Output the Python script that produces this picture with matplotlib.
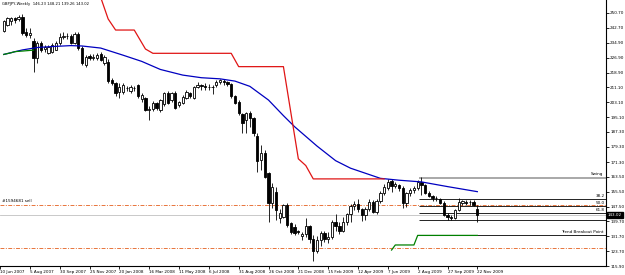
import numpy as np
import matplotlib
matplotlib.use("Agg")
import matplotlib.pyplot as plt
import matplotlib.transforms as mtrans

# ---------------- data ----------------
opens = [241.0, 244.3, 246.6, 247.9, 247.4, 248.8, 240.8, 239.0, 236.0, 226.6,
         234.6, 231.5, 229.3, 230.0, 231.2, 234.6, 238.1, 238.6, 238.5, 234.7,
         239.6, 232.0, 223.2, 228.0, 226.8, 226.8, 229.0, 224.0, 224.8, 214.8,
         213.2, 208.8, 208.8, 210.8, 209.0, 210.8, 212.3, 204.6, 205.2, 199.1,
         199.4, 202.6, 199.0, 202.0, 207.9, 204.4, 207.9, 201.7, 202.8, 205.5,
         208.0, 205.5, 211.4, 212.2, 212.0, 211.2, 211.0, 212.3, 214.0, 214.6,
         213.9, 212.6, 206.2, 203.0, 197.0, 193.7, 197.3, 194.7, 185.0, 172.4,
         176.0, 165.3, 149.5, 155.5, 141.3, 142.2, 148.4, 138.6, 136.9, 134.5,
         132.0, 132.8, 137.0, 130.5, 124.0, 129.5, 133.5, 130.2, 131.5, 139.3,
         137.0, 134.8, 139.5, 143.4, 147.9, 148.7, 146.3, 143.3, 146.2, 150.1,
         144.6, 150.6, 154.7, 157.3, 161.0, 158.3, 159.0, 157.5, 149.6, 154.6,
         156.3, 157.3, 160.8, 159.0, 155.0, 153.0, 151.9, 151.4, 149.4, 143.2,
         142.0, 141.4, 145.7, 149.6, 150.2, 149.8, 150.0, 146.23]
highs = [246.9, 248.7, 248.5, 248.7, 249.8, 250.2, 242.5, 242.5, 237.5, 235.5,
         235.5, 233.5, 233.5, 234.5, 235.5, 239.9, 240.8, 240.0, 239.7, 240.6,
         240.6, 233.0, 228.3, 229.0, 229.0, 229.5, 230.0, 228.5, 226.0, 216.0,
         214.0, 213.2, 213.3, 212.0, 212.2, 212.0, 213.0, 208.0, 206.0, 201.0,
         203.6, 203.4, 205.0, 208.8, 209.2, 208.6, 209.0, 204.0, 206.8, 209.5,
         208.8, 212.0, 214.0, 212.8, 213.2, 212.8, 212.3, 215.0, 215.6, 215.4,
         214.5, 213.4, 207.0, 204.5, 197.6, 198.0, 198.5, 195.5, 186.5, 180.4,
         177.5, 166.0, 160.3, 157.8, 146.0, 149.0, 149.2, 139.5, 138.5, 135.1,
         134.0, 141.5, 137.8, 132.5, 131.8, 134.5, 134.8, 133.8, 140.2, 143.5,
         139.5, 142.0, 144.2, 148.9, 150.5, 151.6, 147.0, 147.5, 151.5, 150.8,
         151.5, 155.6, 159.6, 162.0, 162.0, 160.9, 159.5, 158.3, 155.5, 157.5,
         158.6, 161.6, 163.3, 159.6, 156.0, 153.8, 153.2, 152.0, 150.3, 144.0,
         143.0, 146.0, 152.0, 151.0, 151.3, 151.0, 150.8, 148.21]
lows = [240.4, 243.8, 244.3, 245.2, 246.2, 239.0, 238.0, 237.2, 219.4, 224.2,
        230.0, 229.9, 228.8, 229.5, 230.8, 233.8, 236.8, 236.9, 234.0, 234.0,
        231.2, 223.0, 222.1, 225.8, 225.5, 225.5, 225.0, 223.0, 213.5, 212.5,
        206.5, 205.2, 207.5, 209.0, 208.2, 209.3, 205.5, 203.5, 198.5, 193.7,
        198.5, 198.8, 198.1, 201.2, 202.0, 203.5, 199.3, 200.5, 202.0, 204.8,
        205.5, 205.0, 210.5, 209.8, 209.5, 209.4, 207.5, 211.5, 212.8, 212.5,
        211.6, 205.5, 202.0, 196.5, 186.8, 186.6, 190.2, 185.0, 166.2, 167.0,
        162.8, 139.5, 146.7, 140.4, 138.8, 141.5, 136.5, 133.0, 132.5, 133.0,
        129.5, 131.5, 128.0, 118.8, 122.8, 126.8, 128.6, 128.2, 130.5, 134.5,
        133.2, 134.0, 137.8, 139.5, 145.9, 144.8, 139.9, 140.5, 145.0, 144.0,
        143.8, 149.5, 153.5, 156.2, 155.3, 157.2, 155.8, 146.9, 147.5, 153.4,
        155.0, 156.4, 153.8, 154.5, 152.5, 150.5, 150.6, 149.0, 142.8, 140.2,
        140.5, 140.8, 145.0, 148.3, 148.5, 148.6, 147.8, 139.26]
closes = [246.4, 247.9, 247.9, 247.2, 248.5, 239.8, 239.0, 239.8, 226.7, 234.6,
          231.1, 232.3, 232.7, 233.5, 234.6, 238.1, 238.6, 238.2, 234.7, 239.6,
          232.0, 224.0, 227.4, 226.6, 227.4, 228.3, 225.8, 227.4, 214.3, 213.2,
          208.0, 211.2, 212.2, 210.5, 211.4, 210.5, 206.2, 207.0, 199.1, 199.6,
          202.6, 200.0, 204.4, 207.9, 202.8, 207.9, 200.0, 203.0, 206.0, 208.6,
          206.3, 211.2, 212.2, 212.0, 211.2, 211.0, 211.5, 214.0, 214.8, 214.0,
          212.6, 206.2, 202.8, 197.5, 192.0, 197.2, 194.7, 186.7, 171.6, 176.0,
          163.5, 149.3, 157.8, 145.7, 144.0, 148.4, 137.7, 134.2, 133.3, 134.0,
          132.8, 137.0, 130.5, 124.0, 129.5, 133.5, 130.2, 131.5, 139.3, 137.0,
          134.8, 139.5, 143.4, 147.9, 148.7, 146.3, 143.3, 146.2, 150.1, 144.6,
          150.6, 154.8, 158.2, 160.8, 158.3, 159.6, 157.5, 149.6, 154.6, 156.4,
          157.4, 160.8, 159.0, 155.0, 153.0, 151.9, 152.1, 149.4, 143.2, 142.0,
          141.6, 145.7, 150.2, 150.6, 149.7, 150.2, 148.3, 143.02]

# moving average (blue) read at bar positions
ma_idx = [0, 5, 9, 13, 18, 21, 26, 32, 37, 42, 48, 53, 58, 62, 66, 71, 75, 78,
          84, 89, 93, 101, 106, 112, 119, 127]
ma_val = [228.6, 231.0, 232.3, 232.8, 233.3, 233.1, 232.0, 228.2, 224.9, 220.6,
          217.6, 216.2, 215.6, 214.4, 211.6, 204.3, 196.0, 190.1, 179.8, 172.0,
          168.0, 162.6, 161.6, 160.7, 158.2, 155.5]

# trailing stop above price (red)
stop_hi_idx = [26, 28, 30, 35, 38, 40, 61, 63, 75, 79, 81, 83, 102]
stop_hi_val = [259.0, 247.5, 241.6, 241.6, 231.5, 229.2, 229.2, 222.1, 222.1,
               173.0, 169.4, 162.3, 162.3]

# trailing stop below price (green)
stop_lo1_idx = [0, 2, 3, 5, 8]
stop_lo1_val = [228.6, 229.5, 230.1, 230.4, 230.9]
stop_lo2_idx = [104, 105, 110, 111, 127]
stop_lo2_val = [124.4, 127.1, 127.1, 132.2, 132.2]

# horizontal objects
order_levels = [148.4, 125.3]
bid_price = 143.02
swing_level = 163.0
fib_levels = [151.6, 147.9, 144.0, 140.4]
fib_labels = ["38.2", "50.0", "61.8", ""]
breakout_level = 132.2
obj_start = 111.3

y_ticks = [250.70, 242.70, 234.90, 226.90, 218.90, 211.10, 203.10, 195.10,
           187.30, 179.30, 171.30, 163.50, 155.50, 147.50, 139.70, 131.70,
           123.70, 115.90]
x_tick_idx = [-1, 7, 15, 23, 31, 39, 47, 55, 63, 71, 79, 87, 95, 103, 111, 119, 127]
x_tick_labels = ["10 Jun 2007", "5 Aug 2007", "30 Sep 2007", "25 Nov 2007",
                 "20 Jan 2008", "16 Mar 2008", "11 May 2008", "6 Jul 2008",
                 "31 Aug 2008", "26 Oct 2008", "21 Dec 2008", "15 Feb 2009",
                 "12 Apr 2009", "7 Jun 2009", "2 Aug 2009", "27 Sep 2009",
                 "22 Nov 2009"]

header = "GBPJPY,Weekly  146.23 148.21 139.26 143.02"

# ---------------- plot ----------------
plt.rcParams['font.family'] = ['DejaVu Sans']
FS = 3.0

fig = plt.figure(figsize=(6.25, 2.75), dpi=100)
fig.patch.set_facecolor('white')
ax = fig.add_axes([0, 9 / 275, 606 / 625, 266 / 275])
ax.set_facecolor('white')

o = np.array(opens); h = np.array(highs); l = np.array(lows); c = np.array(closes)
idx = np.arange(len(o))
up = c >= o

ax.vlines(idx, l, h, color='black', lw=0.6, zorder=2)
bottom = np.minimum(o, c)
height = np.maximum(np.abs(c - o), 0.45)
ax.bar(idx[up], height[up], bottom=bottom[up], width=0.62, facecolor='white',
       edgecolor='black', linewidth=0.6, zorder=3)
ax.bar(idx[~up], height[~up], bottom=bottom[~up], width=0.62, facecolor='black',
       edgecolor='black', linewidth=0.6, zorder=3)

ax.plot(ma_idx, ma_val, color='#0000C0', lw=0.9, zorder=4)
ax.plot(stop_hi_idx, stop_hi_val, color='#E01515', lw=0.9, zorder=4)
ax.plot(stop_lo1_idx, stop_lo1_val, color='#008000', lw=0.9, zorder=4)
ax.plot(stop_lo2_idx, stop_lo2_val, color='#008000', lw=0.9, zorder=4)

for lev in order_levels:
    ax.axhline(lev, color='#E8743B', lw=0.7, dashes=(4, 1.5, 1, 1.5), zorder=1)
ax.axhline(bid_price, color='#C0C0C0', lw=0.6, zorder=1)

xr = 161.5
ax.hlines(swing_level, obj_start, xr, color='#A8A8A8', lw=1.4, zorder=1)
ax.hlines(fib_levels, obj_start, xr, color='black', lw=0.6, zorder=1)
ax.hlines(breakout_level, 127, xr, color='black', lw=0.6, zorder=1)

bt = mtrans.blended_transform_factory(ax.transAxes, ax.transData)
ax.text(0.996, swing_level + 0.8, "Swing", transform=bt, ha='right', va='bottom',
        fontsize=FS, color='black')
for lev, lab in zip(fib_levels, fib_labels):
    if lab:
        ax.text(0.998, lev + 0.6, lab, transform=bt, ha='right', va='bottom',
                fontsize=FS, color='black')
ax.text(0.996, breakout_level + 0.8, "Trend Breakout Point", transform=bt,
        ha='right', va='bottom', fontsize=FS, color='black')
ax.text(0.004, order_levels[0] + 0.8, "#1594681 sell", transform=bt, ha='left',
        va='bottom', fontsize=FS, color='black')
ax.text(0.004, 0.992, header, transform=ax.transAxes, ha='left', va='top',
        fontsize=2.7, color='black')
ax.text(1.0 + 2 / 606, bid_price, "%.2f" % bid_price, transform=bt, ha='left',
        va='center', fontsize=FS, color='white', clip_on=False, zorder=6,
        bbox=dict(facecolor='black', edgecolor='black', pad=0.8))

ax.set_xlim(-0.19, xr)
ax.set_ylim(115.9, 257.6)

ax.yaxis.tick_right()
ax.set_yticks(y_ticks)
ax.set_yticklabels(["%.2f" % v for v in y_ticks])
ax.set_xticks(x_tick_idx)
ax.set_xticklabels(x_tick_labels)
for t in ax.get_xticklabels():
    t.set_horizontalalignment('left')
ax.tick_params(axis='both', labelsize=FS, length=2, width=0.6, pad=1,
               colors='black', direction='out')

for s in ['top', 'left']:
    ax.spines[s].set_visible(False)
for s in ['right', 'bottom']:
    ax.spines[s].set_linewidth(0.8)
    ax.spines[s].set_color('black')

fig.savefig("out.png", dpi=100, facecolor='white')
